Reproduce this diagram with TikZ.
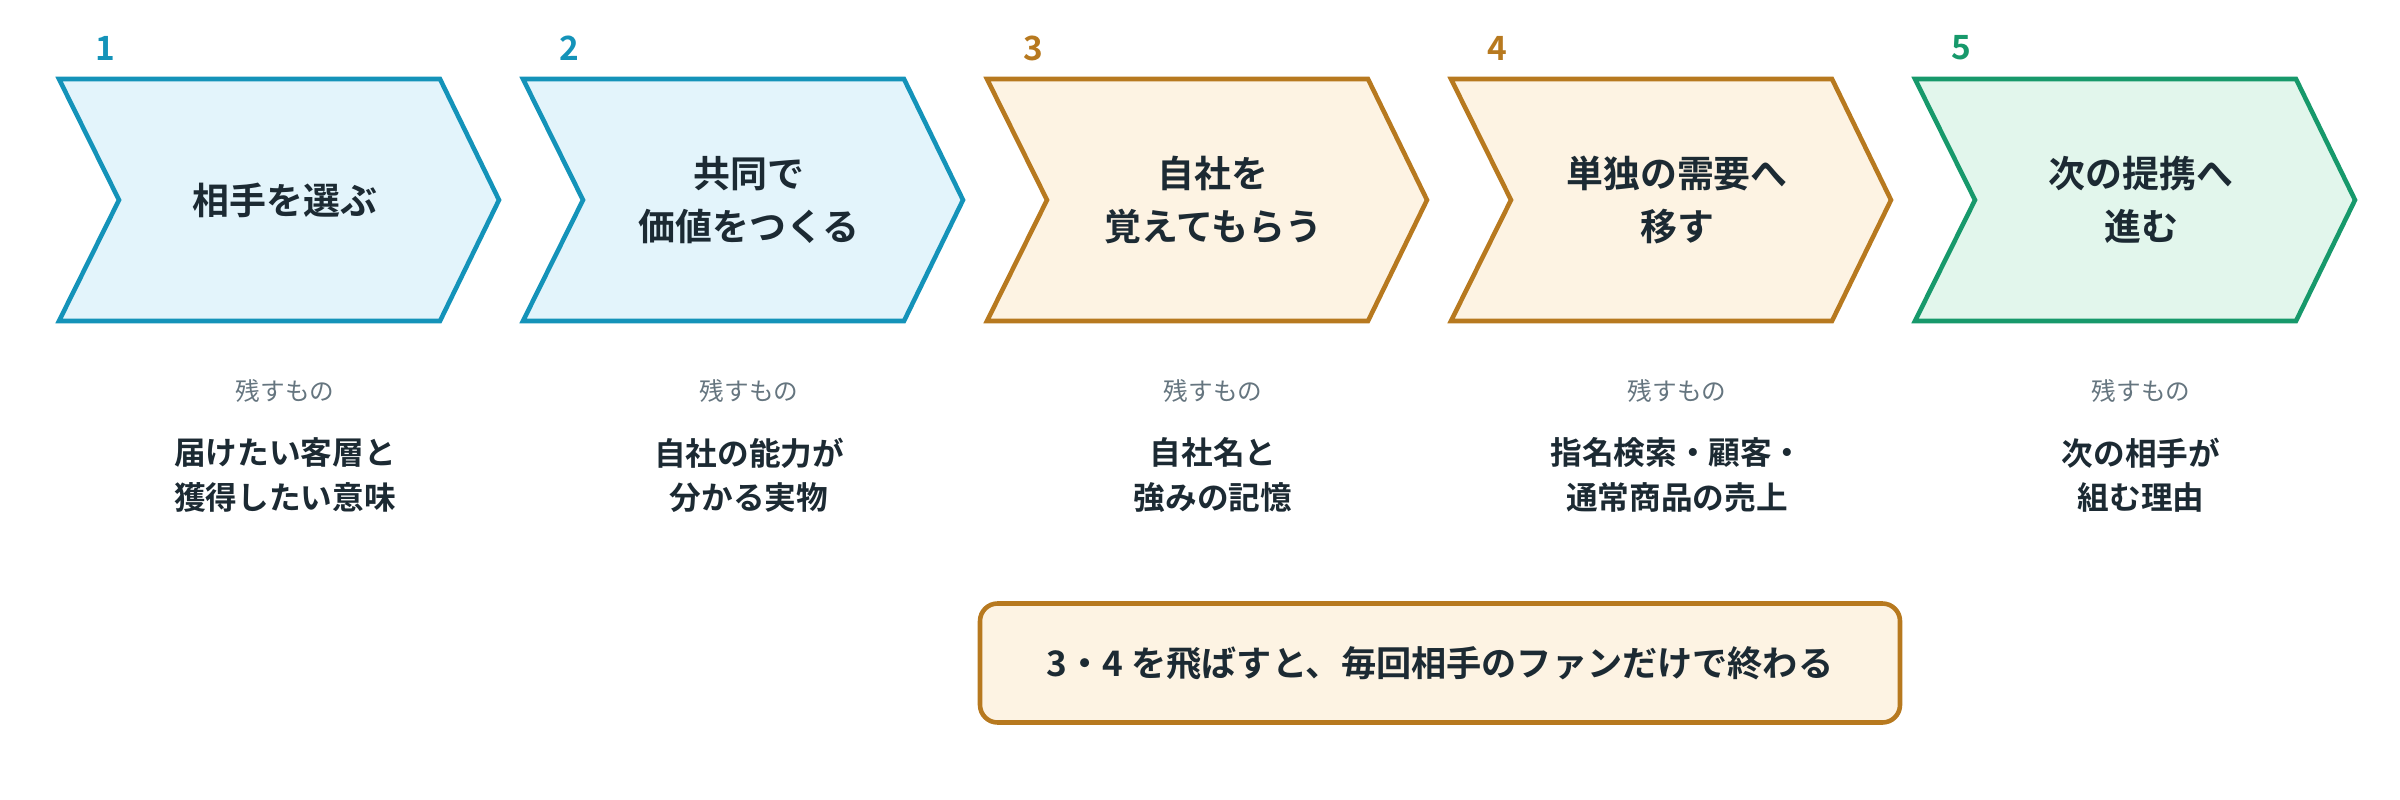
\documentclass[tikz,border=0pt]{standalone}
\usepackage{fontspec}
\setmainfont{Noto Sans CJK JP}
\newfontfamily\cjkbold{Noto Sans CJK JP Bold}
\definecolor{Ink}{HTML}{1C2A33}
\definecolor{Muted}{HTML}{65757F}
\definecolor{StepA}{HTML}{1493B9}
\definecolor{FillA}{HTML}{E3F4FB}
\definecolor{StepB}{HTML}{B7791F}
\definecolor{FillB}{HTML}{FDF3E3}
\definecolor{StepC}{HTML}{17996B}
\definecolor{FillC}{HTML}{E2F6EC}
\tikzset{
  title/.style={font=\cjkbold\fontsize{10.5}{15}\selectfont, text=Ink, align=center},
  kicker/.style={font=\fontsize{7}{8}\selectfont, text=Muted},
  keep/.style={font=\cjkbold\fontsize{9}{12.6}\selectfont, text=Ink, align=center},
  num/.style={font=\cjkbold\fontsize{9.5}{10}\selectfont}
}
\begin{document}
\begin{tikzpicture}[x=0.01cm, y=-0.01cm]
 \useasboundingbox (0,0) rectangle (2400,800);

 %%%%%%%%%% Chevrons %%%%%%%%%%
 \foreach \i/\col/\fil/\txt/\res in {
   1/StepA/FillA/{相手を選ぶ}/{届けたい客層と\\獲得したい意味},
   2/StepA/FillA/{共同で\\価値をつくる}/{自社の能力が\\分かる実物},
   3/StepB/FillB/{自社を\\覚えてもらう}/{自社名と\\強みの記憶},
   4/StepB/FillB/{単独の需要へ\\移す}/{指名検索・顧客・\\通常商品の売上},
   5/StepC/FillC/{次の提携へ\\進む}/{次の相手が\\組む理由}} {
   \begin{scope}[xshift={(\i-1)*464*0.01cm}]
     \draw [line width=1.3pt, draw=\col, fill=\fil, line join=miter]
       (59,79) -- (440,79) -- (499,200) -- (440,321) -- (59,321) -- (119,200) -- cycle ;
     \node [num, text=\col] (n\i) at (105,48) {\i};
     \node [title] (t\i) at (285,200) {\txt};
     \node [kicker] (k\i) at (285,391) {残すもの};
     \node [keep] (r\i) at (285,475) {\res};
   \end{scope}
 }

 %%%%%%%%%% Note %%%%%%%%%%
 \node [draw=StepB, fill=FillB, line width=1.3pt, rounded corners=5pt,
        minimum width=920*0.01cm, minimum height=119*0.01cm,
        font=\cjkbold\fontsize{10}{11}\selectfont, text=Ink] (note) at (1440,663)
   {3・4 を飛ばすと、毎回相手のファンだけで終わる};
\end{tikzpicture}
\end{document}
